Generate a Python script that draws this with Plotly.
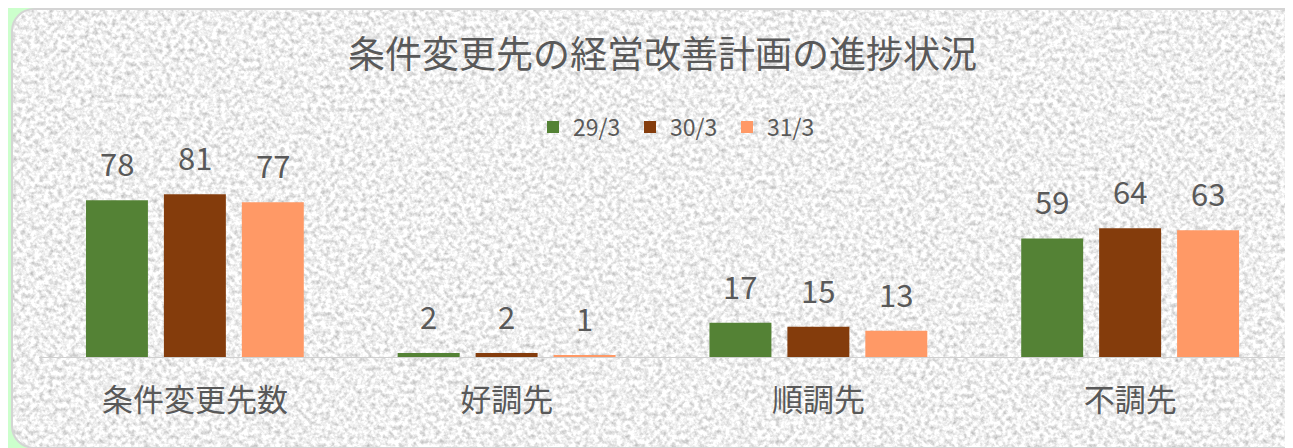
import base64
import plotly.graph_objects as go

categories = ["条件変更先数", "好調先", "順調先", "不調先"]
series_names = ["29/3", "30/3", "31/3"]
values_29 = [78, 2, 17, 59]
values_30 = [81, 2, 15, 64]
values_31 = [77, 1, 13, 63]
colors = ["#548235", "#843C0C", "#FF9966"]

W, H = 1301, 448
L, R, T, B = 31, 23, 142, 99
pw, ph = W - L - R, H - T - B

FONT = "Noto Sans CJK JP, Noto Sans, sans-serif"
TXT = "#595959"

svg = f"""<svg xmlns='http://www.w3.org/2000/svg' width='{W}' height='{H}' viewBox='0 0 {W} {H}' preserveAspectRatio='none'>
<defs>
<filter id='g' filterUnits='userSpaceOnUse' x='0' y='0' width='{W}' height='{H}' color-interpolation-filters='sRGB'>
<feTurbulence type='fractalNoise' baseFrequency='0.22' numOctaves='3' seed='7' result='t'/>
<feColorMatrix in='t' type='matrix' values='0.5 0 0 0 0.69  0.5 0 0 0 0.69  0.5 0 0 0 0.69  0 0 0 0 1' result='c'/>
<feComposite in='c' in2='SourceAlpha' operator='in'/>
</filter>
</defs>
<rect x='4' y='1' width='1340' height='439' rx='22' ry='22' fill='#ffffff' filter='url(#g)'/>
<rect x='4' y='1' width='1340' height='439' rx='22' ry='22' fill='none' stroke='#d4d4d4' stroke-width='2'/>
</svg>"""
uri = "data:image/svg+xml;base64," + base64.b64encode(svg.encode("utf-8")).decode("ascii")

fig = go.Figure()
all_vals = [values_29, values_30, values_31]
for name, vals, col in zip(series_names, all_vals, colors):
    fig.add_trace(go.Bar(x=categories, y=vals, name=name, marker=dict(color=col, line=dict(width=0))))

# data labels as annotations above each bar
slot = 0.25
for j, vals in enumerate(all_vals):
    for i, v in enumerate(vals):
        fig.add_annotation(x=i + (j - 1) * slot, y=v, xref="x", yref="y", text=str(v),
                           showarrow=False, yanchor="bottom", yshift=13,
                           font=dict(family=FONT, size=31, color=TXT))

fig.update_layout(
    width=W, height=H,
    margin=dict(l=L, r=R, t=T, b=B),
    paper_bgcolor="#CCFFCC",
    plot_bgcolor="rgba(0,0,0,0)",
    barmode="group",
    bargap=0.25,
    bargroupgap=0.205,
    font=dict(family=FONT, color=TXT),
    title=dict(text="条件変更先の経営改善計画の進捗状況", x=0.5, xref="paper", xanchor="center",
               y=1 - 47 / H, yanchor="middle", font=dict(family=FONT, size=37, color=TXT)),
    legend=dict(orientation="h", x=(525 - L) / pw, xanchor="left", y=(ph + T - 119) / ph, yanchor="middle",
                entrywidth=52, entrywidthmode="pixels",
                font=dict(family=FONT, size=23, color=TXT), bgcolor="rgba(0,0,0,0)", itemclick=False),
    xaxis=dict(showline=True, linecolor="#d0d0d0", linewidth=1, ticks="outside", ticklen=16,
               tickcolor="rgba(0,0,0,0)", tickfont=dict(family=FONT, size=31, color=TXT),
               showgrid=False, zeroline=False, fixedrange=True),
    yaxis=dict(range=[0, ph / 2.01], visible=False, showgrid=False, zeroline=False, fixedrange=True),
    images=[dict(source=uri, xref="paper", yref="paper", x=-L / pw, y=1 + T / ph,
                 sizex=W / pw, sizey=H / ph, xanchor="left", yanchor="top",
                 sizing="stretch", layer="below")],
    showlegend=True,
)

fig.write_html("out.html")
